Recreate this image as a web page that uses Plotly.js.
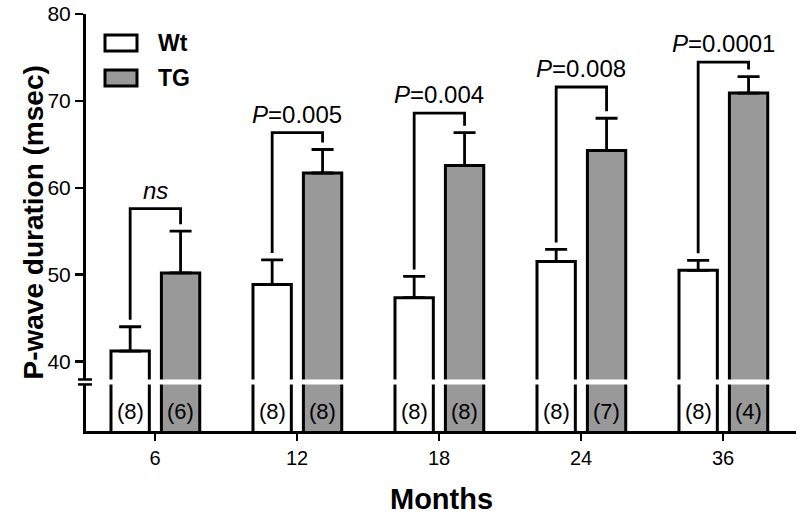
<!DOCTYPE html>
<html>
<head>
<meta charset="utf-8">
<script src="https://cdn.plot.ly/plotly-3.0.1.min.js"></script>
<style>html,body{margin:0;padding:0;background:#fff;}#chart{width:800px;height:518px;}</style>
</head>
<body>
<div id="chart"></div>
<script>
// ---- data ----
const months = ['6', '12', '18', '24', '36'];
const wtMean = [41.2, 48.85, 47.35, 51.5, 50.5];
const wtSem  = [2.8, 2.85, 2.45, 1.4, 1.15];
const tgMean = [50.2, 61.7, 62.55, 64.3, 70.9];
const tgSem  = [4.8, 2.7, 3.8, 3.7, 1.9];
const wtN = [8, 8, 8, 8, 8];
const tgN = [6, 8, 8, 7, 4];
const pLabels = ['<i>ns</i>', '<i>P</i>=0.005', '<i>P</i>=0.004', '<i>P</i>=0.008', '<i>P</i>=0.0001'];
const bracketLevel = [57.6, 66.35, 68.6, 71.6, 74.45];
const yTicks = [40, 50, 60, 70, 80];

// ---- layout constants ----
const FONT = 'Liberation Sans, Arial, Helvetica, sans-serif';
const BAR_W = 0.27, WT_OFF = -0.31, TG_OFF = 0.045;
const wtC = WT_OFF + BAR_W / 2, tgC = TG_OFF + BAR_W / 2;
const GAP = 0.8;           // gap between error cap and bracket foot (data units)
const BREAK_LO = 37.36, BREAK_HI = 37.93;
const idx = months.map((_, i) => i);

const traces = [
  {
    type: 'bar', name: 'Wt', x: idx, y: wtMean, width: BAR_W, offset: WT_OFF,
    marker: {color: '#ffffff', line: {color: '#000', width: 3}},
    error_y: {type: 'data', symmetric: false, array: wtSem, arrayminus: wtSem.map(() => 0),
              color: '#000', thickness: 2.8, width: 11},
    showlegend: false, hoverinfo: 'skip'
  },
  {
    type: 'bar', name: 'TG', x: idx, y: tgMean, width: BAR_W, offset: TG_OFF,
    marker: {color: '#999999', line: {color: '#000', width: 3}},
    error_y: {type: 'data', symmetric: false, array: tgSem, arrayminus: tgSem.map(() => 0),
              color: '#000', thickness: 2.8, width: 11},
    showlegend: false, hoverinfo: 'skip'
  }
];

// brackets
const bx = [], by = [];
idx.forEach(i => {
  bx.push(i + wtC, i + wtC, i + tgC, i + tgC, null);
  by.push(wtMean[i] + wtSem[i] + GAP, bracketLevel[i], bracketLevel[i], tgMean[i] + tgSem[i] + GAP, null);
});
traces.push({type: 'scatter', mode: 'lines', x: bx, y: by, line: {color: '#000', width: 2.8},
             showlegend: false, hoverinfo: 'skip', connectgaps: false});

const annotations = [];
idx.forEach(i => {
  annotations.push({x: i + (wtC + tgC) / 2, y: bracketLevel[i], xref: 'x', yref: 'y', text: pLabels[i],
    showarrow: false, yanchor: 'bottom', yshift: 3, font: {family: FONT, size: 24, color: '#000'}});
  annotations.push({x: i + wtC, y: 0, xref: 'x', yref: 'paper', text: '(' + wtN[i] + ')',
    showarrow: false, yanchor: 'middle', yshift: 20, font: {family: FONT, size: 22, color: '#000'}});
  annotations.push({x: i + tgC, y: 0, xref: 'x', yref: 'paper', text: '(' + tgN[i] + ')',
    showarrow: false, yanchor: 'middle', yshift: 20, font: {family: FONT, size: 22, color: '#000'}});
});
// axis titles
annotations.push({x: 0, y: 0.5, xref: 'paper', yref: 'paper', xshift: -53, text: '<b>P-wave duration (msec)</b>',
  textangle: -90, showarrow: false, xanchor: 'center', yanchor: 'middle', font: {family: FONT, size: 28, color: '#000'}});
annotations.push({x: 0.5, y: 0, xref: 'paper', yref: 'paper', yshift: -68, text: '<b>Months</b>',
  showarrow: false, xanchor: 'center', yanchor: 'middle', font: {family: FONT, size: 29, color: '#000'}});
// legend text
annotations.push({x: 0, y: 1, xref: 'paper', yref: 'paper', xshift: 70, yshift: -29, text: '<b>Wt</b>',
  showarrow: false, xanchor: 'left', yanchor: 'middle', font: {family: FONT, size: 23, color: '#000'}});
annotations.push({x: 0, y: 1, xref: 'paper', yref: 'paper', xshift: 70, yshift: -64, text: '<b>TG</b>',
  showarrow: false, xanchor: 'left', yanchor: 'middle', font: {family: FONT, size: 23, color: '#000'}});

const shapes = [
  // axis break band
  {type: 'rect', layer: 'above', xref: 'paper', yref: 'y', x0: -0.02, x1: 1, y0: BREAK_LO, y1: BREAK_HI,
   fillcolor: '#ffffff', line: {width: 0}},
  {type: 'line', layer: 'above', xref: 'paper', yref: 'y', xsizemode: 'pixel', xanchor: 0, x0: -8, x1: 6,
   y0: BREAK_HI, y1: BREAK_HI, line: {color: '#000', width: 2.5}},
  {type: 'line', layer: 'above', xref: 'paper', yref: 'y', xsizemode: 'pixel', xanchor: 0, x0: -8, x1: 6,
   y0: BREAK_LO, y1: BREAK_LO, line: {color: '#000', width: 2.5}},
  // legend boxes
  {type: 'rect', xref: 'paper', yref: 'paper', xsizemode: 'pixel', ysizemode: 'pixel', xanchor: 0, yanchor: 1,
   x0: 19, x1: 51, y0: -21, y1: -37, fillcolor: '#ffffff', line: {color: '#000', width: 3}},
  {type: 'rect', xref: 'paper', yref: 'paper', xsizemode: 'pixel', ysizemode: 'pixel', xanchor: 0, yanchor: 1,
   x0: 19, x1: 51, y0: -56, y1: -72, fillcolor: '#999999', line: {color: '#000', width: 3}}
];

const layout = {
  width: 800, height: 518,
  margin: {l: 86, r: 4, t: 14, b: 87},
  paper_bgcolor: '#fff', plot_bgcolor: '#fff',
  font: {family: FONT, color: '#000'},
  showlegend: false,
  xaxis: {
    type: 'linear', range: [-0.486, 4.514], tickvals: idx, ticktext: months,
    showgrid: false, zeroline: false, showline: true, linecolor: '#000', linewidth: 3,
    ticks: 'outside', ticklen: 7, tickwidth: 2.5, tickcolor: '#000',
    tickfont: {family: FONT, size: 20, color: '#000'}, fixedrange: true
  },
  yaxis: {
    range: [32, 80], tickvals: yTicks, ticktext: yTicks.map(String),
    showgrid: false, zeroline: false, showline: true, linecolor: '#000', linewidth: 3,
    ticks: 'outside', ticklen: 8, tickwidth: 2.5, tickcolor: '#000',
    tickfont: {family: FONT, size: 21, color: '#000'}, fixedrange: true
  },
  annotations: annotations,
  shapes: shapes
};

Plotly.newPlot('chart', traces, layout, {displayModeBar: false, staticPlot: true});
</script>
</body>
</html>
